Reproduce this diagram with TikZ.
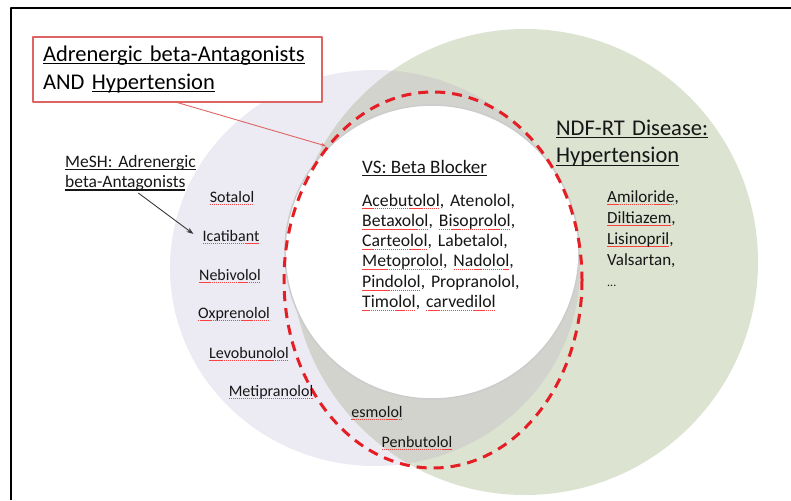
\documentclass[tikz,border=0pt]{standalone}
\usepackage{fontspec}
\setmainfont{Carlito}
\usepackage{tikz}
\usetikzlibrary{arrows.meta}

\definecolor{lavender}{RGB}{236,234,242}
\definecolor{sage}{RGB}{220,227,209}
\definecolor{overlapgray}{RGB}{209,211,204}
\definecolor{dashred}{RGB}{228,30,36}
\definecolor{boxred}{RGB}{222,100,100}
\definecolor{inkgray}{RGB}{22,22,22}

\frenchspacing
% title underline and spell-check marks
\newcommand{\undl}[1]{\leavevmode\setbox0\hbox{#1}\rlap{\rule[-3pt]{\wd0}{1.1pt}}\box0}
\newcommand{\sq}[1]{\leavevmode\setbox0\hbox{#1}\rlap{\hbox to\wd0{\color{red!75}\xleaders\hbox{\rule[-3pt]{1.3pt}{0.7pt}\kern0.7pt}\hfill}}\box0}

\begin{document}
\begin{tikzpicture}[
    x=1pt, y=-1pt,
    >=Stealth,
    line cap=round,
    line join=round,
    every node/.style={inner sep=0pt, text=inkgray},
    title/.style={font=\fontsize{22.5}{28}\selectfont},
    head/.style={font=\fontsize{19}{21}\selectfont},
    druglist/.style={font=\fontsize{17.7}{20.3}\selectfont, align=left, text width=#1},
    drug/.style={font=\fontsize{16}{19}\selectfont}
]

% --- Definitions ---
\def\lavX{375} \def\lavY{268} % MeSH set
\def\sageX{525} \def\sageY{262} % NDF-RT set
\def\vsX{432} \def\vsY{252}   % VS set

\useasboundingbox (0,0) rectangle (791,500);

% --- Frame ---
\draw[line width=2pt, line cap=butt] (11,500) -- (11,8) -- (791,8);

% --- Sets ---
\fill[lavender] (\lavX,\lavY) ellipse [x radius=205, y radius=198];
\fill[sage] (\sageX,\sageY) circle [radius=233];
% overlap of MeSH and NDF-RT
\begin{scope}
  \clip (\lavX,\lavY) ellipse [x radius=205, y radius=198];
  \fill[overlapgray] (\sageX,\sageY) circle [radius=233];
\end{scope}
\fill[white, draw=gray!40, line width=1.5pt] (\vsX,\vsY) circle [radius=147];

% Query result (red dashed)
\draw[dashred, line width=3pt, line cap=butt, dash pattern=on 10pt off 7pt]
    (433,280) ellipse [x radius=149, y radius=188];
\coordinate (hit) at (326,146);

% --- Labels ---
\node[draw=boxred, line width=1.2pt, fill=white, text=black,
      minimum width=289pt, minimum height=65pt, text width=269pt,
      align=left, font=\fontsize{22.5}{28}\selectfont] (query) at (177.5,69.5)
    {\undl{Adrenergic beta-Antagonists}\\AND \undl{Hypertension}};

\node[align=left, text width=140pt, anchor=base west,
      font=\fontsize{17.5}{20.5}\selectfont] (mesh) at (65,167)
    {\undl{MeSH: Adrenergic}\\\undl{beta-Antagonists}};

\node[head, anchor=base west] (vstitle) at (362,173) {\undl{VS: Beta Blocker}};
\node[druglist=175pt, anchor=base west] (vslist) at (362,206)
    {\sq{Acebutolol}, Atenolol,\\\sq{Betaxolol}, \sq{Bisoprolol},\\
     \sq{Carteolol}, Labetalol,\\\sq{Metoprolol}, \sq{Nadolol},\\
     \sq{Pindolol}, Propranolol,\\\sq{Timolol}, \sq{carvedilol}};

\node[title, align=left, text width=200pt, anchor=base west] (ndf) at (556,135)
    {\undl{NDF-RT Disease:}\\\undl{Hypertension}};
\node[druglist=120pt, font=\fontsize{17}{21}\selectfont, anchor=base west] (ndflist) at (607,202)
    {\sq{Amiloride},\\\sq{Diltiazem},\\\sq{Lisinopril},\\Valsartan,\\{\fontsize{12}{12}\selectfont...}};

% MeSH-only and overlap drugs
\foreach \nm/\x/\y in {Sotalol/232/202, Icatibant/231/241, Nebivolol/230/280,
    Oxprenolol/234/318, Levobunolol/249/358, Metipranolol/271/396,
    esmolol/377/417, Penbutolol/417/447}
  \node[drug, anchor=base] (\nm) at (\x,\y) {\sq{\nm}};

% --- Pointers ---
\draw[boxred, line width=0.9pt, -{Stealth[length=5pt, width=3.5pt]}] (query.south) -- (hit);
\draw[inkgray!85, line width=0.9pt, -{Stealth[length=7pt, width=5pt]}, shorten <=4pt]
    (mesh.south) -- ([xshift=-9pt, yshift=3pt]Icatibant.west);

\end{tikzpicture}
\end{document}
